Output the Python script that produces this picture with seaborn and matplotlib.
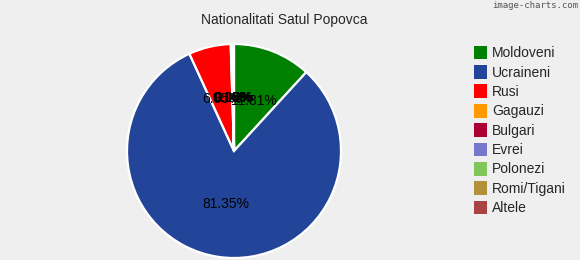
import matplotlib
matplotlib.use("Agg")
import matplotlib.pyplot as plt
import seaborn as sns
from matplotlib.patches import Patch

sns.set_style("white")
plt.rcParams['font.family'] = ['Liberation Sans', 'DejaVu Sans']

categories = ["Moldoveni", "Ucraineni", "Rusi", "Gagauzi", "Bulgari", "Evrei",
              "Polonezi", "Romi/Tigani", "Altele"]
values = [11.81, 81.35, 6.35, 0.16, 0.08, 0.05, 0.03, 0.05, 0.12]
colors = ["#008000", "#224499", "#FF0000", "#FF9900", "#AA0033", "#7777CC",
          "#80C65A", "#B2913A", "#AA4444"]
title = "Nationalitati Satul Popovca"

bg = "#EFEFEF"
fig = plt.figure(figsize=(5.8, 2.6), dpi=100, facecolor=bg)
ax = fig.add_axes([127/580, 2/260, 214/580, 214/260])
ax.set_facecolor(bg)
ax.pie(values, colors=colors, startangle=90, counterclock=False,
       autopct="%.2f%%", pctdistance=0.5, radius=1.0,
       wedgeprops=dict(edgecolor="white", linewidth=1.6),
       textprops=dict(fontsize=10, color="black"))
ax.set_xlim(-1.0, 1.0)
ax.set_ylim(-1.0, 1.0)
ax.set_aspect("equal")
ax.axis("off")

fig.text(284/580, 1 - 20/260, title, ha="center", va="center", fontsize=10)
fig.text(578/580, 1 - 6/260, "image-charts.com", ha="right", va="center",
         fontsize=6.5, color="#555555", family="DejaVu Sans Mono")

handles = [Patch(facecolor=c, edgecolor="none") for c in colors]
leg = fig.legend(handles, categories, loc="upper left",
                 bbox_to_anchor=(468/580, 1 - 40/260), frameon=False,
                 fontsize=10, handlelength=1.0, handleheight=1.15,
                 handletextpad=0.35, labelspacing=0.345, borderaxespad=0)

fig.savefig("out.png", dpi=100, facecolor=bg)
